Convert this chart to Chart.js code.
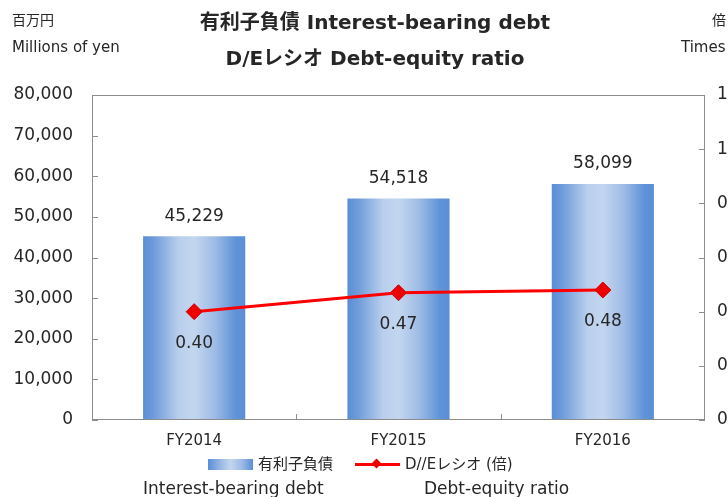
<!DOCTYPE html>
<html>
<head>
<meta charset="utf-8">
<script src="https://cdn.jsdelivr.net/npm/chart.js@4/dist/chart.umd.min.js"></script>
<style>
    html, body { margin: 0; padding: 0; background: #fff; }
    body { font-family: "DejaVu Sans", "Noto Sans CJK JP", sans-serif; color: #262626; }
    .wrap { position: relative; width: 728px; height: 497px; overflow: hidden; }
    canvas { position: absolute; left: 0; top: 0; }
    .txt { position: absolute; white-space: nowrap; line-height: 1; }
    .title { left: 0; width: 750px; text-align: center; font-weight: bold; font-size: 20px; }
    .swatch { position: absolute; left: 208px; top: 459px; width: 45px; height: 11px;
        background: linear-gradient(to right, #5b8ed6 0%, #9dbbe6 30%, #c3d6ef 50%, #9dbbe6 75%, #5b8ed6 100%); }
    .lline { position: absolute; left: 355px; top: 463px; width: 45px; height: 3px; background: #ff0000; }
    .ldiam { position: absolute; left: 373px; top: 460px; width: 7px; height: 7px; background: #ee0000; transform: rotate(45deg); }
</style>
</head>
<body>
<div class="wrap">
    <canvas id="chart" width="760" height="497"></canvas>

    <div class="txt" style="left:12px; top:13px; font-size:14px;">百万円</div>
    <div class="txt" style="left:12px; top:40px; font-size:15px;">Millions of yen</div>
    <div class="txt" style="left:712px; top:13px; font-size:14px;">倍</div>
    <div class="txt" style="left:681px; top:40px; font-size:15px;">Times</div>

    <div class="txt title" style="top:12px;">有利子負債 Interest-bearing debt</div>
    <div class="txt title" style="top:48px;">D/Eレシオ Debt-equity ratio</div>

    <div class="swatch"></div>
    <div class="txt" style="left:258px; top:457px; font-size:15px;">有利子負債</div>
    <div class="lline"></div>
    <div class="ldiam"></div>
    <div class="txt" style="left:405px; top:457px; font-size:15px;">D//Eレシオ (倍)</div>
    <div class="txt" style="left:143px; top:480px; font-size:17px;">Interest-bearing debt</div>
    <div class="txt" style="left:424px; top:480px; font-size:17px;">Debt-equity ratio</div>
</div>

<script>
// 年度
const categories = ['FY2014', 'FY2015', 'FY2016'];
// 有利子負債（百万円）
const debtValues = [45229, 54518, 58099];
// D/Eレシオ（倍）
const deRatio = [0.40, 0.47, 0.48];
// 軸の目盛り
const leftAxis = { min: 0, max: 80000, step: 10000 };
const rightAxis = { min: 0, max: 1.2, step: 0.2 };

const textColor = '#262626';
const frameColor = '#8c8c8c';
const barPct = 0.5;

function barGradient(context) {
    const chart = context.chart;
    const area = chart.chartArea;
    if (!area) return '#8fb1e3';
    const xs = chart.scales.x;
    const cx = xs.getPixelForValue(context.dataIndex);
    const half = (area.width / categories.length) * barPct / 2;
    const g = chart.ctx.createLinearGradient(cx - half, 0, cx + half, 0);
    g.addColorStop(0, '#5b8ed6');
    g.addColorStop(0.1, '#6e9bda');
    g.addColorStop(0.35, '#b9cfed');
    g.addColorStop(0.5, '#c3d6ef');
    g.addColorStop(0.7, '#9fbce6');
    g.addColorStop(0.9, '#6094d8');
    g.addColorStop(1, '#5b8ed6');
    return g;
}

// 枠線と内向きの目盛り線
const framePlugin = {
    id: 'frame',
    afterDraw(chart) {
        const { ctx, chartArea: a, scales } = chart;
        ctx.save();
        ctx.strokeStyle = frameColor;
        ctx.lineWidth = 1;
        ctx.strokeRect(a.left + 0.5, a.top + 0.5, a.width - 1, a.height - 1);
        ctx.beginPath();
        scales.y.ticks.forEach(t => {
            const y = Math.round(scales.y.getPixelForValue(t.value)) + 0.5;
            ctx.moveTo(a.left, y); ctx.lineTo(a.left + 6, y);
        });
        scales.y1.ticks.forEach(t => {
            const y = Math.round(scales.y1.getPixelForValue(t.value)) + 0.5;
            ctx.moveTo(a.right - 6, y); ctx.lineTo(a.right, y);
        });
        for (let i = 1; i < categories.length; i++) {
            const x = Math.round((scales.x.getPixelForValue(i - 1) + scales.x.getPixelForValue(i)) / 2) + 0.5;
            ctx.moveTo(x, a.bottom); ctx.lineTo(x, a.bottom - 6);
        }
        ctx.stroke();
        ctx.restore();
    }
};

// データラベル
const labelPlugin = {
    id: 'labels',
    afterDatasetsDraw(chart) {
        const ctx = chart.ctx;
        ctx.save();
        ctx.fillStyle = textColor;
        ctx.font = '17px "DejaVu Sans", sans-serif';
        ctx.textAlign = 'center';
        ctx.textBaseline = 'middle';
        chart.getDatasetMeta(1).data.forEach((el, i) => {
            ctx.fillText(debtValues[i].toLocaleString('en-US'), el.x, el.y - 20);
        });
        chart.getDatasetMeta(0).data.forEach((el, i) => {
            ctx.fillText(deRatio[i].toFixed(2), el.x, el.y + 32);
        });
        ctx.restore();
    }
};

new Chart(document.getElementById('chart').getContext('2d'), {
    data: {
        labels: categories,
        datasets: [{
            type: 'line',
            label: 'D//Eレシオ (倍)',
            data: deRatio,
            yAxisID: 'y1',
            order: 0,
            borderColor: '#ff0000',
            borderWidth: 3,
            pointStyle: 'rectRot',
            pointRadius: 8,
            pointBackgroundColor: '#ee0000',
            pointBorderColor: '#d00000',
            pointBorderWidth: 1,
            tension: 0
        }, {
            type: 'bar',
            label: '有利子負債',
            data: debtValues,
            yAxisID: 'y',
            order: 1,
            backgroundColor: barGradient,
            borderWidth: 0,
            barPercentage: barPct,
            categoryPercentage: 1
        }]
    },
    options: {
        responsive: false,
        animation: false,
        devicePixelRatio: 1,
        layout: { padding: { top: 95, bottom: 47, left: 0, right: 0 } },
        plugins: {
            legend: { display: false },
            tooltip: { enabled: false }
        },
        scales: {
            x: {
                grid: { display: false, drawTicks: false },
                border: { display: false },
                ticks: { color: textColor, padding: 12, font: { size: 15, family: 'DejaVu Sans' } },
                afterFit(s) { s.height = 30; }
            },
            y: {
                position: 'left',
                min: leftAxis.min, max: leftAxis.max,
                grid: { display: false, drawTicks: false },
                border: { display: false },
                ticks: {
                    stepSize: leftAxis.step,
                    color: textColor,
                    padding: 19,
                    font: { size: 17, family: 'DejaVu Sans' },
                    callback: v => v.toLocaleString('en-US')
                },
                afterFit(s) { s.width = 92; }
            },
            y1: {
                position: 'right',
                min: rightAxis.min, max: rightAxis.max,
                grid: { display: false, drawTicks: false },
                border: { display: false },
                ticks: {
                    stepSize: rightAxis.step,
                    color: textColor,
                    padding: 12,
                    font: { size: 17, family: 'DejaVu Sans' },
                    callback: v => v === 0 ? '0' : v.toFixed(1)
                },
                afterFit(s) { s.width = 55; }
            }
        }
    },
    plugins: [framePlugin, labelPlugin]
});
</script>
</body>
</html>
